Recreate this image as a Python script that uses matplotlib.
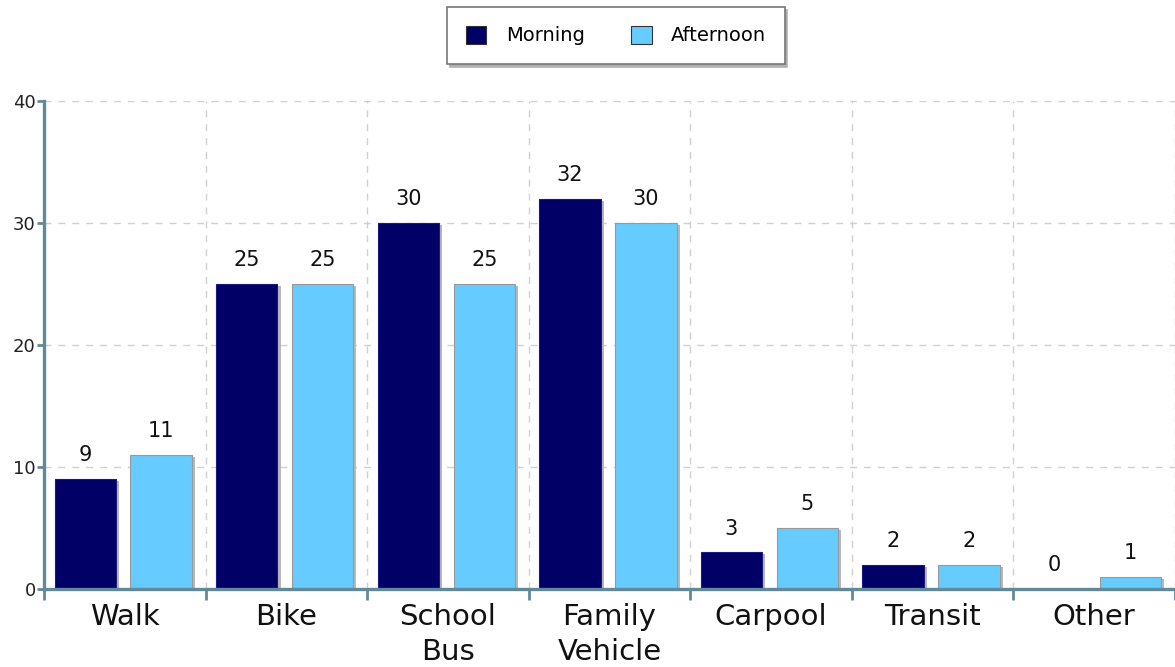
import matplotlib
matplotlib.use("Agg")
import matplotlib.pyplot as plt
import matplotlib.patheffects as pe
import numpy as np

categories = ["Walk", "Bike", "School\nBus", "Family\nVehicle", "Carpool", "Transit", "Other"]
morning = [9, 25, 30, 32, 3, 2, 0]
afternoon = [11, 25, 25, 30, 5, 2, 1]
series_names = ["Morning", "Afternoon"]
colors = ["#000066", "#66ccff"]
yticks = [0, 10, 20, 30, 40]

axis_col = "#62899a"
fig = plt.figure(figsize=(11.75, 6.67), dpi=100)
ax = fig.add_axes([44/1175, 1-589/667, 1-44/1175, (589-101)/667])

x = np.arange(len(categories))
w = 0.38
shadow = [pe.SimplePatchShadow(offset=(2.2, -1.5), shadow_rgbFace="#b8b8b8", alpha=1.0), pe.Normal()]
handles = []
for vals, off, col, edge, name in [(morning, -0.245, colors[0], "#1a1a80", series_names[0]),
                                   (afternoon, 0.225, colors[1], "#999999", series_names[1])]:
    bars = ax.bar(x + off, vals, width=w, color=col, edgecolor=edge, linewidth=0.8,
                  label=name, zorder=3)
    for b in bars:
        b.set_path_effects(shadow)
    handles.append(bars)
    for xi, v in zip(x + off, vals):
        ax.annotate(str(v), (xi, v), xytext=(0, 10), textcoords="offset points",
                    ha="center", va="bottom", fontsize=15, color="#111111")

ax.set_xlim(-0.5, len(categories) - 0.5)
ax.set_ylim(0, 40)
ax.set_yticks(yticks)
ax.set_yticklabels([str(t) for t in yticks], fontsize=13, color="#222222")
ax.set_xticks(x)
ax.set_xticklabels(categories, fontsize=21, color="#111111", linespacing=1.32)
ax.set_xticks(np.arange(len(categories) + 1) - 0.5, minor=True)
ax.tick_params(axis="x", which="major", length=0, pad=10)
ax.tick_params(axis="x", which="minor", length=8, width=2, color=axis_col, direction="out")
ax.tick_params(axis="y", length=5, width=2, color=axis_col, pad=1)

ax.grid(True, axis="y", which="major", linestyle=(0, (5, 5)), color="#d0d0d0", linewidth=1, zorder=0)
ax.grid(True, axis="x", which="minor", linestyle=(0, (5, 5)), color="#d0d0d0", linewidth=1, zorder=0)
ax.set_axisbelow(True)

for s in ["top", "right"]:
    ax.spines[s].set_visible(False)
for s in ["left", "bottom"]:
    ax.spines[s].set_color(axis_col)
    ax.spines[s].set_linewidth(2.4)
    ax.spines[s].set_zorder(4)

leg = fig.legend(handles=handles, labels=series_names, loc="center",
                 bbox_to_anchor=(616/1175, 1-35.5/667), ncol=2, fontsize=14,
                 frameon=True, fancybox=False, shadow={"color": "#b0b0b0", "alpha": 1},
                 handlelength=1.05, handleheight=1.05, columnspacing=2.4, handletextpad=1.0,
                 borderpad=0.95, borderaxespad=0)
leg.get_frame().set_edgecolor("#777777")
leg.get_frame().set_linewidth(1.2)
for h in leg.legend_handles:
    h.set_edgecolor("#333333")
    h.set_linewidth(0.8)
    h.set_path_effects([])

fig.savefig("out.png", dpi=100)
